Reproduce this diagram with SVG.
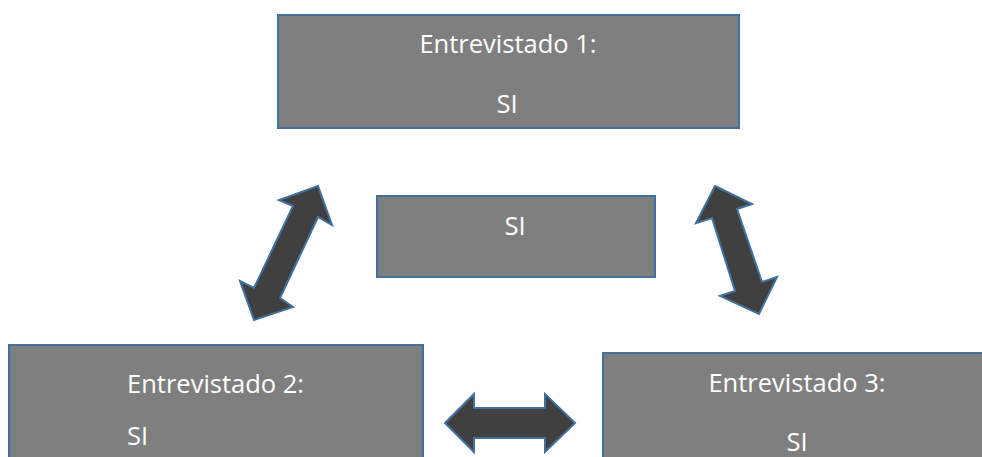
<svg xmlns="http://www.w3.org/2000/svg" width="982" height="457" viewBox="0 0 982 457">
<style>
.box{fill:#7f7f7f;stroke:#41719c;stroke-width:2}
.arr{fill:#404040;stroke:#41719c;stroke-width:2;stroke-linejoin:miter}
text{font-family:"Open Sans","Noto Sans",sans-serif;font-size:25.5px;fill:#ffffff}
.c{text-anchor:middle}
</style>
<rect width="982" height="457" fill="#ffffff"/>
<g id="connectors">
<polygon class="arr" points="318,186 332,225 318,217 280,298 293,307 254,320 240,281 254,288 293,206 279,200"/>
<polygon class="arr" points="715,186 752,204 737,209 762,282 777,277 759,314 720,296 735,291 712,218 696,223"/>
<polygon class="arr" points="445,423 474,394 474,408 545,408 545,394 575,423 545,452 545,438 474,438 474,452"/>
</g>
<g id="node1">
<rect class="box" x="278" y="15" width="461" height="113"/>
<text class="c" x="508" y="53">Entrevistado 1:</text>
<text class="c" x="507" y="113">SI</text>
</g>
<g id="node-center">
<rect class="box" x="377" y="196" width="278" height="81"/>
<text class="c" x="515" y="235">SI</text>
</g>
<g id="node2">
<rect class="box" x="9" y="345" width="414" height="130"/>
<text x="127" y="393">Entrevistado 2:</text>
<text x="127" y="445">SI</text>
</g>
<g id="node3">
<rect class="box" x="603" y="353" width="400" height="130"/>
<text class="c" x="797" y="392">Entrevistado 3:</text>
<text class="c" x="797" y="451">SI</text>
</g>
</svg>
